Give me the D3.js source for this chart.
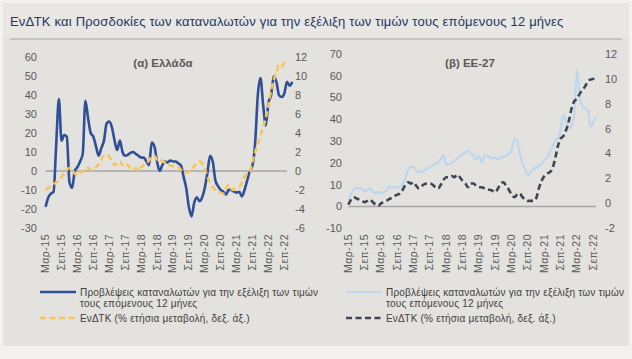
<!DOCTYPE html>
<html><head><meta charset="utf-8">
<script src="https://cdn.jsdelivr.net/npm/d3@7"></script>
<style>
html,body{margin:0;padding:0;background:#f3f2f0;}
svg{display:block;font-family:"Liberation Sans",Arial,sans-serif;}
</style></head>
<body>
<svg id="c" width="632" height="359"></svg>
<script>
// ---- data ----
const title = "ΕνΔΤΚ και Προσδοκίες των καταναλωτών για την εξέλιξη των τιμών τους επόμενους 12 μήνες";
const months = d3.timeMonth.range(new Date(2015, 2, 1), new Date(2022, 10, 1)); // Mar-15 .. Oct-22
const tickLabels = ["Μαρ-15","Σεπ-15","Μαρ-16","Σεπ-16","Μαρ-17","Σεπ-17","Μαρ-18","Σεπ-18","Μαρ-19","Σεπ-19","Μαρ-20","Σεπ-20","Μαρ-21","Σεπ-21","Μαρ-22","Σεπ-22"];
const grExpect = [-19,-14,-12,-11,14,38,16,19,18,-6,-9,0,2,5,9,37,28,20,18,13,8,12,16,25,26,23,16,11,16,10,8,8.5,9.5,10,9,8,7,7,5,3,15,13,5,0,3,5,4.5,5.5,5,5,4,3,-3,-9,-19,-24,-17,-14,-16,-14,-9,-1,8,5,-5,-8,-10,-11,-12.5,-10,-10,-11,-11.5,-11,-13.5,-10,-5,0,3,15,40,49,35,24,36,40,50,47,40,39,41,47,45,47];
const grCPI = [-2.0,-1.8,-1.6,-1.4,-1.2,-1.0,-0.6,-0.3,0.1,0.3,0.2,-0.3,-0.5,-0.1,-0.1,0.2,0.3,0.1,0.2,0.4,0.7,1.2,1.6,1.7,1.5,1.0,0.6,0.8,1.0,0.6,0.8,0.6,0.3,0.1,0.3,0.0,0.4,0.6,0.8,1.1,1.5,1.6,1.2,1.3,1.0,0.9,0.7,0.6,0.5,0.5,0.4,0.1,-0.2,-0.2,-0.1,0.1,0.5,0.9,1.0,0.8,0.2,-0.6,-1.2,-1.7,-2.0,-2.2,-2.3,-2.4,-1.8,-1.5,-1.9,-2.0,-1.8,-1.7,-1.2,-0.6,-0.3,0.0,1.0,2.0,2.8,3.8,4.6,5.6,7.0,8.5,9.6,10.4,11.2,11.0,11.5,11.7];
const euExpect = [3,6,8,8.5,8.5,8.3,7,7.5,8.3,6.7,6,6.7,6.5,6.3,7.5,9,8.7,8.8,9,9,10.5,13,17,18.2,18,16.7,16,15.9,16.5,17.5,18.2,19,19.5,20,22,23.5,19,19.5,20,21,22,23,24,25,25.5,24.3,23.5,21.3,23.5,20,23.5,23,22.8,22,22.5,21.6,22.3,22.8,23.5,24.3,25.5,31,30.4,24.3,19.7,17.4,14,15.9,17,18,18.5,19.7,21,22.5,25,27.5,30.4,31.2,35,41.9,39.6,35.8,36.9,41.9,62.5,50,46,45,44.2,36.5,38.8,41];
const euCPI = [-0.1,0.3,0.5,0.4,0.3,0.2,0.1,0.2,0.3,0.1,-0.1,-0.2,0.0,0.1,0.2,0.35,0.45,0.6,0.7,0.8,1.1,1.5,1.7,1.6,1.7,1.4,1.2,1.4,1.55,1.6,1.6,1.5,1.3,1.2,1.5,1.9,2.1,2.1,2.2,2.1,2.3,2.1,1.8,1.6,1.3,1.6,1.6,1.4,1.3,1.3,1.2,1.1,1.1,1.0,0.9,1.2,1.6,1.7,1.4,1.1,0.7,0.5,0.7,0.8,0.5,0.3,0.2,0.2,0.2,0.4,1.2,1.8,2.2,2.4,2.5,2.8,3.6,4.6,5.2,5.4,5.9,6.6,7.6,8.2,8.4,8.8,9.1,9.4,9.8,9.95,10.0,10.3];
const grLeftTicks = [60,50,40,30,20,10,0,-10,-20,-30];
const grRightTicks = [12,10,8,6,4,2,0,-2,-4,-6];
const euLeftTicks = [70,60,50,40,30,20,10,0,-10];
const euRightTicks = [12,10,8,6,4,2,0,-2];
const panelTitles = ["(α) Ελλάδα","(β) ΕΕ-27"];
const legendLine1 = "Προβλέψεις καταναλωτών για την εξέλιξη των τιμών";
const legendLine2 = "τους επόμενους 12 μήνες";
const legendCPI = "ΕνΔΤΚ (% ετήσια μεταβολή, δεξ. άξ.)";

const svg = d3.select("#c");
svg.append("rect").attr("x",0).attr("y",0).attr("width",632).attr("height",359).attr("fill","#f3f2f0");
svg.append("rect").attr("x",3).attr("y",3).attr("width",626).attr("height",343).attr("fill","#e4e2de");
svg.append("rect").attr("x",3).attr("y",3).attr("width",626).attr("height",35).attr("fill","#e8e7e4");
svg.append("text").attr("x",10).attr("y",26).attr("font-size",13).attr("letter-spacing",0.2).attr("fill","#203864").text(title);
svg.append("line").attr("x1",10).attr("x2",622).attr("y1",39).attr("y2",39).attr("stroke","#a8a8a8").attr("stroke-width",1.2);

const txtCol = "#595959";
function panel(o){
  const g = svg.append("g");
  const x = d3.scaleLinear().domain([0, months.length-1]).range([o.x0, o.x1]);
  const yl = d3.scaleLinear().domain(o.ld).range([o.yb, o.yt]);
  const yr = d3.scaleLinear().domain(o.rd).range([o.yb, o.yt]);
  g.append("g").selectAll("text").data(o.lt).join("text")
    .attr("x",o.lx).attr("y",d=>yl(d)).attr("dy","0.35em").attr("text-anchor","end")
    .attr("font-size",11).attr("fill",txtCol).text(d=>d);
  g.append("g").selectAll("text").data(o.rt).join("text")
    .attr("x",o.rx).attr("y",d=>yr(d)).attr("dy","0.35em").attr("text-anchor","start")
    .attr("font-size",11).attr("fill",txtCol).text(d=>d);
  g.append("line").attr("x1",o.x0).attr("x2",o.x1).attr("y1",yl(0)).attr("y2",yl(0))
    .attr("stroke","#a6a6a6").attr("stroke-width",1.5);
  g.append("g").selectAll("text").data(tickLabels).join("text")
    .attr("transform",(d,i)=>`translate(${x(i*6)+3.5},234) rotate(-90)`)
    .attr("text-anchor","end").attr("font-size",10.5).attr("letter-spacing",0.5).attr("fill",txtCol).text(d=>d);
  const line1 = d3.line().x((d,i)=>x(i)).y(d=>yl(d)).curve(d3.curveMonotoneX);
  const line2 = d3.line().x((d,i)=>x(i)).y(d=>yr(d)).curve(d3.curveMonotoneX);
  g.append("path").datum(o.s1).attr("d",line1).attr("fill","none").attr("stroke",o.c1).attr("stroke-width",o.w1).attr("stroke-linejoin","round");
  g.append("path").datum(o.s2).attr("d",line2).attr("fill","none").attr("stroke",o.c2).attr("stroke-width",2.6).attr("stroke-dasharray","6,3.5");
  g.append("text").attr("x",o.tx).attr("y",67).attr("text-anchor","middle").attr("font-size",11.5)
    .attr("font-weight","bold").attr("fill",txtCol).text(o.title);
  const lg = g.append("g").attr("font-size",10).attr("letter-spacing",0.2).attr("fill","#404040");
  lg.append("line").attr("x1",o.lgx).attr("x2",o.lgx+36).attr("y1",292).attr("y2",292).attr("stroke",o.c1).attr("stroke-width",o.w1);
  lg.append("text").attr("x",o.lgx+40).attr("y",295.5).text(legendLine1);
  lg.append("text").attr("x",o.lgx+40).attr("y",307).text(legendLine2);
  lg.append("line").attr("x1",o.lgx).attr("x2",o.lgx+36).attr("y1",318).attr("y2",318).attr("stroke",o.c2).attr("stroke-width",2.6).attr("stroke-dasharray","6,3.5");
  lg.append("text").attr("x",o.lgx+40).attr("y",321.5).text(legendCPI);
}

panel({x0:45.6,x1:287,yt:57.3,yb:227.7,ld:[-30,60],rd:[-6,12],lt:grLeftTicks,rt:grRightTicks,lx:37,rx:295,
  s1:grExpect,s2:grCPI,c1:"#2f5096",c2:"#f7c55a",w1:2.6,tx:163,title:panelTitles[0],lgx:40});
panel({x0:348.3,x1:596,yt:54,yb:228.3,ld:[-10,70],rd:[-2,12],lt:euLeftTicks,rt:euRightTicks,lx:342,rx:605,
  s1:euExpect,s2:euCPI,c1:"#bdd7ee",c2:"#3f4552",w1:2.2,tx:470,title:panelTitles[1],lgx:346});
</script>
</body></html>
